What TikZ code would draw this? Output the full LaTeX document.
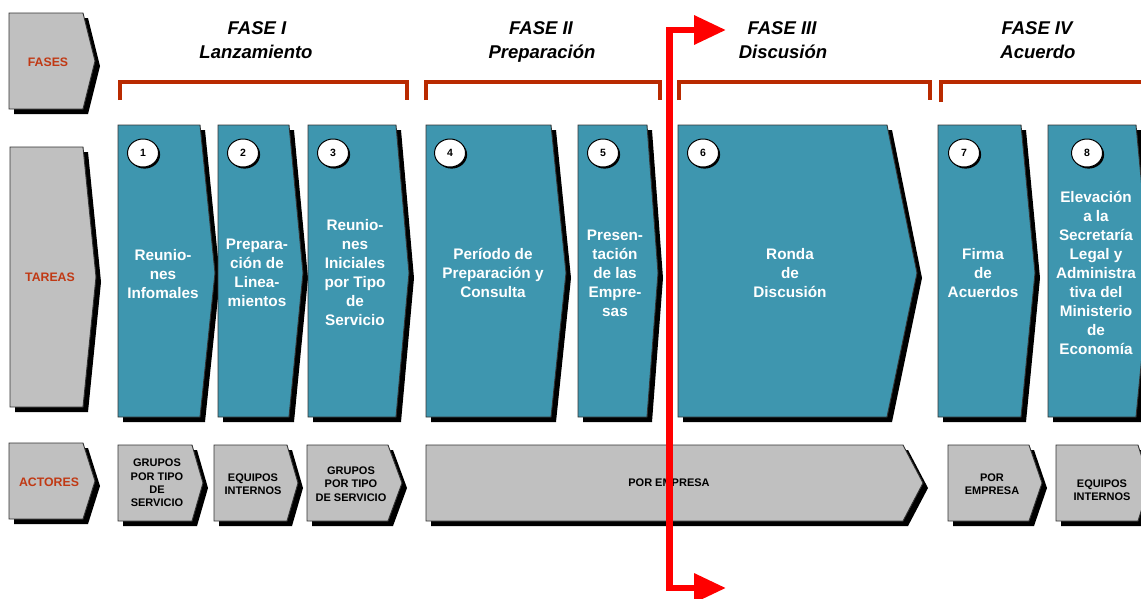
\documentclass[tikz,border=0pt]{standalone}
\usepackage{fontspec}
\setmainfont{Liberation Sans}
\usetikzlibrary{arrows.meta,shapes.geometric}
\definecolor{tealfill}{RGB}{62,150,175}
\definecolor{grayfill}{RGB}{192,192,192}
\definecolor{bracketred}{RGB}{185,42,0}
\definecolor{labelred}{RGB}{192,57,20}
\newcommand{\chevbox}[7]{%
  \fill[black,shift={(5,5)}] (#1,#2) -- (#3,#2) -- (#4,#5) -- (#3,#6) -- (#1,#6) -- cycle;
  \filldraw[fill=#7,draw=black!80,line width=0.9pt] (#1,#2) -- (#3,#2) -- (#4,#5) -- (#3,#6) -- (#1,#6) -- cycle;}
\newcommand{\numcirc}[3]{%
  \fill[black] (#2+1.6,153+1.6) ellipse [x radius=15.5, y radius=14];
  \node[numc] (#1) at (#2,153) {#3};}
\begin{document}
\begin{tikzpicture}[x=1pt,y=-1pt,
  sidelabel/.style={font=\fontsize{12.3}{14}\selectfont\bfseries, text=labelred, inner sep=0},
  phaselabel/.style={font=\fontsize{18.5}{24}\selectfont\bfseries\itshape, anchor=base, inner sep=0},
  tasktext/.style={font=\fontsize{15.3}{19}\selectfont\bfseries, text=white, align=center, inner sep=0},
  actortext/.style={font=\fontsize{11}{13.3}\selectfont\bfseries, align=center, inner sep=0},
  numc/.style={ellipse, draw=black, line width=1pt, fill=white, minimum width=31pt, minimum height=28pt, inner sep=0, font=\fontsize{10.5}{12}\selectfont\bfseries},
  bracket/.style={draw=bracketred, line width=4pt, line join=miter, line cap=butt},
  redarrow/.style={draw=red, line width=6.5pt, line join=miter, {Triangle[length=32pt,width=28pt]}-{Triangle[length=32pt,width=28pt]}}]
\useasboundingbox (0,0) rectangle (1141,598);

% left column
\chevbox{9}{13}{83}{95}{61}{109}{grayfill}
\chevbox{10}{147}{83}{96}{277}{407}{grayfill}
\chevbox{9}{443}{83}{95}{481}{519}{grayfill}
\node[sidelabel] (lfases) at (48,62) {FASES};
\node[sidelabel] (ltareas) at (50,277) {TAREAS};
\node[sidelabel] (lactores) at (49,482) {ACTORES};

% phase labels
\node[phaselabel] (f1a) at (257,34.5) {FASE I};
\node[phaselabel] (f1b) at (256,58.5) {Lanzamiento};
\node[phaselabel] (f2a) at (541,34.5) {FASE II};
\node[phaselabel] (f2b) at (542,58.5) {Preparación};
\node[phaselabel] (f3a) at (782,34.5) {FASE III};
\node[phaselabel] (f3b) at (783,58.5) {Discusión};
\node[phaselabel] (f4a) at (1037,34.5) {FASE IV};
\node[phaselabel] (f4b) at (1038,58.5) {Acuerdo};

% brackets
\draw[bracket] (120,100) -- (120,81.5) -- (407,81.5) -- (407,100);
\draw[bracket] (426,100) -- (426,81.5) -- (660,81.5) -- (660,100);
\draw[bracket] (679,100) -- (679,81.5) -- (930,81.5) -- (930,100);
\draw[bracket] (941,102) -- (941,81.5) -- (1160,81.5);

% task boxes
\chevbox{118}{125}{200}{215}{273}{417}{tealfill}
\chevbox{218}{125}{289}{303}{273}{417}{tealfill}
\chevbox{308}{125}{396}{409}{273}{417}{tealfill}
\chevbox{426}{125}{551}{566}{273}{417}{tealfill}
\chevbox{578}{125}{647}{658}{273}{417}{tealfill}
\chevbox{678}{125}{887}{917}{273}{417}{tealfill}
\chevbox{938}{125}{1021}{1035}{273}{417}{tealfill}
\chevbox{1048}{125}{1136}{1150}{273}{417}{tealfill}

\numcirc{c1}{143}{1}
\numcirc{c2}{243}{2}
\numcirc{c3}{333}{3}
\numcirc{c4}{450}{4}
\numcirc{c5}{603}{5}
\numcirc{c6}{703}{6}
\numcirc{c7}{964}{7}
\numcirc{c8}{1087}{8}

\node[tasktext] (t1) at (163,274) {Reunio-\\nes\\Infomales};
\node[tasktext] (t2) at (257,273) {Prepara-\\ción de\\Linea-\\mientos};
\node[tasktext] (t3) at (355,273) {Reunio-\\nes\\Iniciales\\por Tipo\\de\\Servicio};
\node[tasktext] (t4) at (493,273) {Período de\\Preparación y\\Consulta};
\node[tasktext] (t5) at (615,273) {Presen-\\tación\\de las\\Empre-\\sas};
\node[tasktext] (t6) at (790,273) {Ronda\\de\\Discusión};
\node[tasktext] (t7) at (983,273) {Firma\\de\\Acuerdos};
\node[tasktext] (t8) at (1096,273) {Elevación\\a la\\Secretaría\\Legal y\\Administra\\tiva del\\Ministerio\\de\\Economía};

% actor boxes
\chevbox{118}{445}{192}{203}{483}{521}{grayfill}
\chevbox{214}{445}{287}{298}{483}{521}{grayfill}
\chevbox{307}{445}{388}{402}{483}{521}{grayfill}
\chevbox{426}{445}{903}{923}{483}{521}{grayfill}
\chevbox{948}{445}{1029}{1042}{483}{521}{grayfill}
\chevbox{1056}{445}{1138}{1150}{483}{521}{grayfill}

\node[actortext] (a1) at (157,483) {GRUPOS\\POR TIPO\\DE\\SERVICIO};
\node[actortext] (a2) at (253,484) {EQUIPOS\\INTERNOS};
\node[actortext] (a3) at (351,484) {GRUPOS\\POR TIPO\\DE SERVICIO};
\node[actortext] (a4) at (669,483) {POR EMPRESA};
\node[actortext] (a5) at (992,484) {POR\\EMPRESA};
\node[actortext] (a6) at (1102,490) {EQUIPOS\\INTERNOS};

% red arrow
\coordinate (arrtop) at (726,30);
\coordinate (cornertop) at (669.5,30);
\coordinate (cornerbot) at (669.5,588);
\coordinate (arrbot) at (726,588);
\draw[redarrow] (arrtop) -- (cornertop) -- (cornerbot) -- (arrbot);
\end{tikzpicture}
\end{document}
